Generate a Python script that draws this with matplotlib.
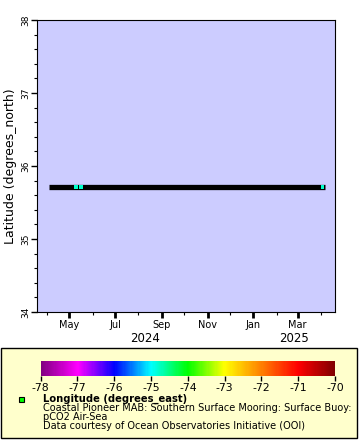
import numpy as np
import pandas as pd
import matplotlib
matplotlib.use("Agg")
import matplotlib.pyplot as plt
import matplotlib.dates as mdates
from matplotlib.colors import LinearSegmentedColormap, Normalize
from matplotlib.patches import Rectangle

# buoy track: constant latitude, longitude only known at a few points
track_start = "2024-04-04"
track_end = "2025-04-06"
track_lat = 35.717
point_times = ["2024-05-10", "2024-05-16", "2025-04-03"]
point_lons = [-74.8, -74.8, -74.8]
x_limits = ["2024-03-19", "2025-04-20"]
y_limits = [34, 38]
cbar_ticks = [-78, -77, -76, -75, -74, -73, -72, -71, -70]
legend_lines = ["Coastal Pioneer MAB: Southern Surface Mooring: Surface Buoy:",
                "pCO2 Air-Sea",
                "Data courtesy of Ocean Observatories Initiative (OOI)"]

rainbow = LinearSegmentedColormap.from_list("erddap_rainbow", [
    "#800080", "#ff00ff", "#0000ff", "#00ffff", "#00ff00",
    "#ffff00", "#ff8000", "#ff0000", "#800000"])
norm = Normalize(vmin=-78, vmax=-70)

plt.rcParams["font.family"] = "DejaVu Sans"
fig = plt.figure(figsize=(3.6, 4.4), dpi=100)

ax = fig.add_axes([37 / 360, 1 - 312 / 440, 298.3 / 360, 292 / 440])
ax.set_facecolor("#ccccff")

t = pd.to_datetime([track_start, track_end])
ax.plot(t, [track_lat, track_lat], color="black", lw=3.8, solid_capstyle="butt")
pt = pd.to_datetime(point_times)
ax.scatter(pt, [track_lat] * len(pt), c=point_lons, cmap=rainbow, norm=norm,
           marker="s", s=8, linewidths=0, zorder=3)

xl = pd.to_datetime(x_limits)
ax.set_xlim(xl[0], xl[1])
ax.set_ylim(*y_limits)

ax.yaxis.set_major_locator(plt.MultipleLocator(1))
ax.yaxis.set_minor_locator(plt.MultipleLocator(0.2))
ax.xaxis.set_major_locator(mdates.MonthLocator(bymonth=[1, 3, 5, 7, 9, 11]))
ax.xaxis.set_minor_locator(mdates.MonthLocator())
ax.xaxis.set_major_formatter(mdates.DateFormatter("%b"))
ax.tick_params(which="major", length=4, width=1, labelsize=7, pad=2)
ax.tick_params(which="minor", length=2.5, width=0.8)
ax.tick_params(axis="y", labelsize=6.5, pad=1)
for lab in ax.get_yticklabels():
    lab.set_rotation(90)
    lab.set_va("center")
for tick in ax.xaxis.get_major_ticks():
    if mdates.num2date(tick.get_loc()).month == 1:
        tick.tick1line.set_markeredgewidth(2)
ax.set_ylabel("Latitude (degrees_north)", fontsize=9, labelpad=3)

# year labels centred on the visible part of each year
x0, x1 = ax.get_xlim()
ny = mdates.date2num(pd.Timestamp("2025-01-01"))
for yr, a, b in [("2024", x0, ny), ("2025", ny, x1)]:
    ax.text((a + b) / 2, -0.092, yr, transform=ax.get_xaxis_transform(),
            ha="center", va="center", fontsize=8.5)

# legend panel
fig.patches.append(Rectangle((1 / 360, 2 / 440), 356 / 360, 90 / 440,
                             transform=fig.transFigure, facecolor="#ffffcc",
                             edgecolor="black", lw=1, zorder=-1))
cax = fig.add_axes([40.7 / 360, 1 - 375.7 / 440, 294.3 / 360, 14.7 / 440])
cb = fig.colorbar(plt.cm.ScalarMappable(norm=norm, cmap=rainbow), cax=cax,
                  orientation="horizontal", ticks=cbar_ticks)
cb.outline.set_visible(False)
cax.tick_params(length=3.5, width=1, labelsize=7.8, pad=1.5)
cax.set_xticklabels([str(v) for v in cbar_ticks])

fig.patches.append(Rectangle((18.5 / 360, 1 - 402 / 440), 5.5 / 360, 5.5 / 440,
                             transform=fig.transFigure, facecolor="#00ff00",
                             edgecolor="black", lw=0.8))
fig.text(43 / 360, 1 - 399 / 440, "Longitude (degrees_east)", fontsize=7.2,
         fontweight="bold", va="center")
for i, line in enumerate(legend_lines):
    fig.text(43 / 360, 1 - (408.3 + 8.7 * i) / 440, line, fontsize=7.0, va="center")

fig.savefig("out.png", dpi=100)
